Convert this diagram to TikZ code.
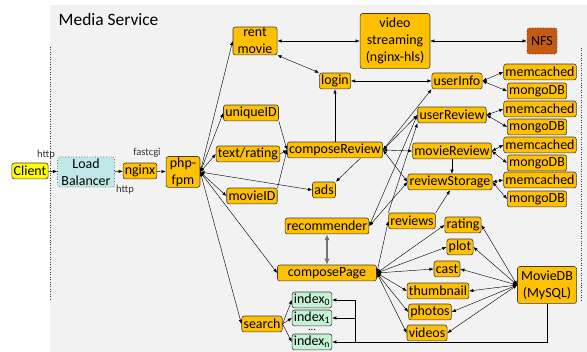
\documentclass[tikz,border=0pt]{standalone}
\usepackage{fontspec}
\setmainfont{Carlito}
\usetikzlibrary{arrows.meta}
\definecolor{svcfill}{RGB}{255,192,0}
\definecolor{boxline}{RGB}{60,60,60}
\definecolor{idxfill}{RGB}{196,242,210}
\definecolor{lbfill}{RGB}{192,232,232}
\definecolor{nfsfill}{RGB}{197,90,17}
\definecolor{clientfill}{RGB}{255,255,0}
\definecolor{panel}{RGB}{242,242,242}
\tikzset{
  svc/.style={draw=boxline, line width=0.02cm, rounded corners=0.08cm, fill=svcfill,
    inner xsep=0.06cm, inner ysep=0.02cm, minimum height=0.53cm, align=center},
  idx/.style={svc, fill=idxfill},
  lbbox/.style={svc, fill=lbfill, dotted, minimum width=1.9cm, minimum height=1.0cm},
  nfsbox/.style={svc, fill=nfsfill, dotted, minimum width=1.0cm, minimum height=0.87cm},
  clientbox/.style={svc, fill=clientfill},
  link/.style={line width=0.014cm, -{Latex[length=0.14cm,width=0.11cm]}},
  duplex/.style={link, {Latex[length=0.14cm,width=0.11cm]}-{Latex[length=0.14cm,width=0.11cm]}},
  thick duplex/.style={line width=0.04cm, black!55, {Latex[length=0.2cm,width=0.18cm]}-{Latex[length=0.2cm,width=0.18cm]}},
  proto/.style={font=\fontsize{10}{12}\selectfont, text=black!80}
}
\begin{document}
\begin{tikzpicture}
\useasboundingbox (0,0) rectangle (19.566667,11.733333);
% Drawing panel of the service
\fill [panel] (1.666667,0.000000) rectangle (19.566667,11.566667);
\draw [line width=0.012cm, dotted, boxline] (1.666667,10.166667) -- (1.666667,1.733333);
\draw [line width=0.012cm, dotted, boxline] (19.366667,10.133333) -- (19.366667,1.666667);
\draw (1.833333,11.066667) node [anchor=west, font=\fontsize{16.5}{18}\selectfont] (title) {Media Service};%

% Marking protocol labels
\draw (1.533333,6.566667) node [proto] (http1) {http};%
\draw (4.900000,6.633333) node [proto] (fcgi) {fastcgi};%
\draw (4.166667,5.400000) node [proto] (http2) {http};%

{\fontsize{13.2}{16}\selectfont

% Marking front end
\draw (1.000000,6.033333) node [clientbox] (client) {Client};%
\draw (2.866667,6.000000) node [lbbox] (lb) {Load\\Balancer};%
\draw (4.666667,6.033333) node [svc] (nginx) {nginx};%
\draw (6.100000,6.000000) node [svc, minimum width=1.13cm, minimum height=1.03cm] (phpfpm) {php-\\fpm};%

% Marking top row
\draw (8.500000,10.366667) node [svc, minimum width=1.47cm, minimum height=0.93cm] (rentmovie) {rent\\movie};%
\draw (13.166667,10.366667) node [svc, minimum width=2.33cm, minimum height=1.83cm] (video) {video\\streaming\\(nginx-hls)};%
\draw (18.066667,10.366667) node [nfsbox] (nfs) {NFS};%
\draw (11.166667,9.033333) node [svc] (login) {login};%

% Marking review services
\draw (8.366667,7.966667) node [svc] (uniqueid) {uniqueID};%
\draw (8.266667,6.600000) node [svc] (textrating) {text/rating};%
\draw (8.400000,5.200000) node [svc] (movieid) {movieID};%
\draw (11.166667,6.733333) node [svc] (composereview) {composeReview};%
\draw (10.800000,5.400000) node [svc] (ads) {ads};%
\draw (15.233333,9.033333) node [svc] (userinfo) {userInfo};%
\draw (15.066667,7.900000) node [svc] (userreview) {userReview};%
\draw (15.066667,6.700000) node [svc] (moviereview) {movieReview};%
\draw (15.000000,5.666667) node [svc] (reviewstorage) {reviewStorage};%

% Marking caches and stores
\draw (18.000000,9.333333) node [svc] (memc1) {memcached};%
\draw (17.900000,8.700000) node [svc] (mongo1) {mongoDB};%
\draw (18.000000,8.100000) node [svc] (memc2) {memcached};%
\draw (17.900000,7.500000) node [svc] (mongo2) {mongoDB};%
\draw (18.000000,6.900000) node [svc] (memc3) {memcached};%
\draw (17.900000,6.300000) node [svc] (mongo3) {mongoDB};%
\draw (18.000000,5.733333) node [svc] (memc4) {memcached};%
\draw (17.900000,5.100000) node [svc] (mongo4) {mongoDB};%

% Marking page services
\draw (10.900000,4.200000) node [svc] (recommender) {recommender};%
\draw (10.900000,2.633333) node [svc, minimum width=3.3cm] (composepage) {composePage};%
\draw (13.733333,4.366667) node [svc] (reviews) {reviews};%
\draw (15.433333,4.233333) node [svc] (rating) {rating};%
\draw (15.333333,3.500000) node [svc] (plot) {plot};%
\draw (14.900000,2.766667) node [svc] (cast) {cast};%
\draw (14.600000,2.033333) node [svc] (thumbnail) {thumbnail};%
\draw (14.333333,1.333333) node [svc] (photos) {photos};%
\draw (14.233333,0.633333) node [svc] (videos) {videos};%
\draw (18.233333,2.233333) node [svc, minimum width=1.97cm, minimum height=1.23cm] (moviedb) {MovieDB\\(MySQL)};%

% Marking search and indices
\draw (8.733333,0.933333) node [svc] (search) {search};%
\draw (10.400000,1.733333) node [idx] (index0) {index\textsubscript{0}};%
\draw (10.400000,1.133333) node [idx] (index1) {index\textsubscript{1}};%
\draw (10.400000,0.740000) node [inner sep=0pt, font=\fontsize{10}{10}\selectfont] (idots) {...};%
\draw (10.400000,0.333333) node [idx] (indexn) {index\textsubscript{n}};%
}

% Drawing front end chain
\draw [link] (client) -- (lb);
\draw [link] (lb) -- (nginx);
\draw [link] (nginx) -- (phpfpm);

% Drawing calls of php-fpm
\draw [duplex] (phpfpm.east) -- (rentmovie.west);
\draw [duplex] (phpfpm.east) -- (uniqueid.west);
\draw [duplex] (phpfpm.east) -- (textrating.west);
\draw [duplex] (phpfpm.east) -- (movieid.west);
\draw [duplex] (phpfpm.east) -- (ads.west);
\draw [duplex] (phpfpm.east) -- (composepage.west);
\draw [duplex] (phpfpm.east) -- (search.west);

% Drawing streaming
\draw [duplex] (rentmovie.east) -- (video.west);
\draw [duplex] (video.east) -- (nfs.west);
\draw [duplex] (rentmovie.south east) -- (login.north west);
\draw [duplex] (login.east) -- (userinfo.west);

% Drawing compose review
\draw [link] (uniqueid.south east) -- (composereview.west);
\draw [link] (textrating.east) -- (composereview.west);
\draw [link] (movieid.north east) -- (composereview.west);
\draw [link] (composereview.north) -- (login.south);
\draw [link] (composereview.-18) -- (ads.north east);
\draw [duplex] (composereview.east) -- (userinfo.south west);
\draw [duplex] (composereview.east) -- (userreview.west);
\draw [duplex] (composereview.east) -- (moviereview.west);
\draw [duplex] (composereview.east) -- (reviewstorage.west);
\draw [link] (moviereview.south) -- (moviereview.south |- reviewstorage.north);

% Drawing caches
\foreach \s/\m/\d in {userinfo/memc1/mongo1, userreview/memc2/mongo2, moviereview/memc3/mongo3, reviewstorage/memc4/mongo4}
{
  \draw [duplex] (\s.east) -- (\m.west);
  \draw [duplex] (\s.east) -- (\d.west);
}

% Drawing recommender
\draw [thick duplex] (recommender.south) -- (composepage.north);
\draw [duplex] (recommender.east) -- (userreview.west);
\draw [duplex] (recommender.east) -- (reviewstorage.west);
\draw [link] (reviews.north west) -- (userreview.south west);
\draw [link] (reviews.north east) -- (reviewstorage.south);

% Drawing compose page
\foreach \t in {reviews, rating, plot, cast, thumbnail, photos, videos}
  \draw [duplex] (composepage.east) -- (\t.west);

% Drawing movie database
\foreach \t in {rating, plot, cast, thumbnail, photos, videos}
  \draw [duplex] (moviedb.west) -- (\t.east);
\coordinate (dbbus) at (11.833333,0.333333);
\draw [link] (moviedb.south) |- (indexn.east);
\draw [link] (dbbus) |- (index0.east);
\draw [link] (dbbus |- index1.east) -- (index1.east);

% Drawing search
\draw [link] (search.east) -- (index0.west);
\draw [link] (search.east) -- (index1.west);
\draw [link] (search.east) -- (indexn.west);
\end{tikzpicture}
\end{document}
